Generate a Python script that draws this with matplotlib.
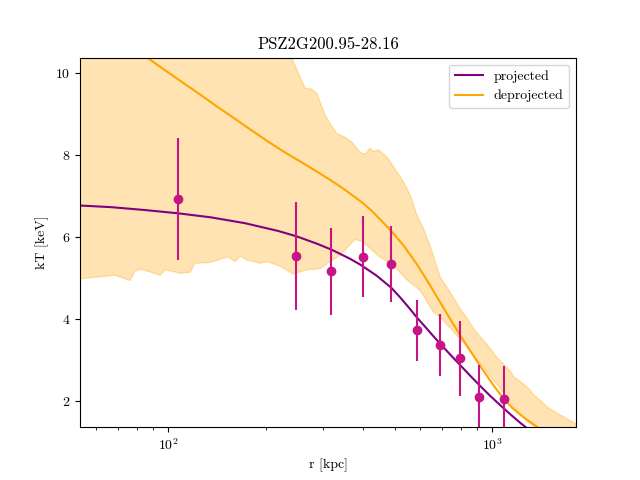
import numpy as np
import matplotlib
matplotlib.use("Agg")
import matplotlib.pyplot as plt

plt.rcParams['font.family'] = 'serif'
plt.rcParams['font.serif'] = ['cmr10', 'DejaVu Serif']
plt.rcParams['mathtext.fontset'] = 'cm'
plt.rcParams['axes.formatter.use_mathtext'] = True

title = "PSZ2G200.95-28.16"

# measured data points
r_data = [107.4, 248.3, 318.4, 400.5, 489.0, 586.9, 691.0, 796.0, 912.0, 1089.0]
T_data = [6.93, 5.54, 5.17, 5.52, 5.34, 3.72, 3.37, 3.04, 2.09, 2.05]
T_err = [1.49, 1.32, 1.06, 0.99, 0.92, 0.75, 0.76, 0.92, 0.78, 0.80]

# projected model
r_proj = [53.5, 66.8, 84.8, 107.4, 136.0, 172.5, 218.5, 248.9, 287.7, 320.1,
          364.5, 391.4, 440.0, 489.0, 520.0, 552.0, 585.7, 620.0, 659.0, 691.0,
          745.0, 796.0, 855.0, 918.0, 985.0, 1058.5, 1140.0, 1220.0, 1294.0, 1400.0]
T_proj = [6.77, 6.73, 6.66, 6.58, 6.48, 6.34, 6.15, 6.02, 5.84, 5.69,
          5.47, 5.33, 5.06, 4.76, 4.53, 4.29, 4.04, 3.82, 3.58, 3.40,
          3.12, 2.88, 2.62, 2.37, 2.13, 1.90, 1.67, 1.47, 1.31, 1.10]

# deprojected model
r_deproj = [76.4, 88.0, 100.0, 111.5, 125.0, 141.4, 160.0, 179.1, 200.0, 227.0,
            255.0, 287.7, 320.0, 347.8, 375.0, 400.7, 425.0, 451.3, 484.2, 532.4,
            585.7, 620.0, 651.6, 691.0, 741.3, 796.0, 855.0, 918.0, 985.9, 1030.0,
            1081.0, 1152.0, 1220.0, 1282.0, 1370.0, 1510.0]
T_deproj = [10.74, 10.33, 10.02, 9.76, 9.49, 9.19, 8.90, 8.63, 8.37, 8.09,
            7.85, 7.60, 7.37, 7.18, 6.99, 6.82, 6.64, 6.43, 6.18, 5.80,
            5.34, 5.03, 4.75, 4.41, 4.01, 3.61, 3.23, 2.86, 2.50, 2.29,
            2.08, 1.84, 1.67, 1.54, 1.38, 1.16]

# deprojected uncertainty band
r_band_up = [53.5, 150.0, 221.6, 241.0, 264.8, 277.7, 287.7, 305.2, 320.1, 331.7,
             356.1, 369.0, 391.4, 405.5, 420.2, 430.1, 445.7, 473.2, 496.0, 532.4,
             558.5, 585.7, 613.8, 645.0, 691.0, 741.3, 796.0, 834.0, 873.9, 918.0,
             965.2, 1030.0, 1136.4, 1166.0, 1220.0, 1310.0, 1338.0, 1406.0, 1478.0,
             1621.0, 1815.0]
T_band_up = [11.5, 11.2, 10.9, 10.37, 9.63, 9.61, 9.51, 8.98, 8.70, 8.53,
             8.41, 8.32, 8.07, 8.02, 8.17, 8.09, 8.13, 7.96, 7.72, 7.35,
             7.03, 6.54, 6.21, 5.76, 5.03, 4.66, 4.25, 4.04, 3.78, 3.57,
             3.38, 3.08, 2.73, 2.59, 2.48, 2.27, 2.16, 2.02, 1.85,
             1.66, 1.44]
r_band_lo = [53.5, 68.6, 76.3, 79.1, 81.9, 88.0, 94.5, 97.9, 108.9, 116.9,
             121.1, 134.8, 144.7, 153.2, 161.0, 166.9, 175.3, 192.3, 202.1, 221.6,
             243.2, 268.0, 294.5, 339.6, 377.8, 399.6, 451.0, 494.7, 546.9, 599.8,
             657.7, 691.0, 758.6, 837.6, 899.5, 940.0, 965.2, 1058.5, 1161.0, 1282.0,
             1338.0, 1478.0, 1815.0]
T_band_lo = [4.98, 5.07, 4.94, 5.16, 5.22, 5.15, 5.07, 5.20, 5.12, 5.14,
             5.36, 5.38, 5.46, 5.52, 5.40, 5.54, 5.44, 5.36, 5.40, 5.29,
             5.10, 5.20, 5.23, 5.56, 5.95, 5.88, 5.51, 5.32, 4.95, 4.70,
             4.18, 4.05, 3.70, 3.32, 3.00, 2.84, 2.70, 2.31, 1.88, 1.50,
             1.40, 1.10, 0.60]

fig, ax = plt.subplots(figsize=(6.4, 4.8), dpi=100)

band_r = np.concatenate([r_band_up, r_band_lo[::-1]])
band_T = np.concatenate([T_band_up, T_band_lo[::-1]])
ax.fill(band_r, band_T, color='orange', alpha=0.3)

ax.plot(r_proj, T_proj, color='purple', label='projected')
ax.plot(r_deproj, T_deproj, color='orange', label='deprojected')
ax.errorbar(r_data, T_data, yerr=T_err, fmt='o', color='mediumvioletred')

ax.set_xscale('log')
ax.set_xlim(53.5, 1815)
ax.set_ylim(1.36, 10.38)
ax.set_xlabel('r [kpc]')
ax.set_ylabel('kT [keV]')
ax.set_title(title)
ax.legend(loc='upper right')

fig.savefig('out.png', dpi=100)
